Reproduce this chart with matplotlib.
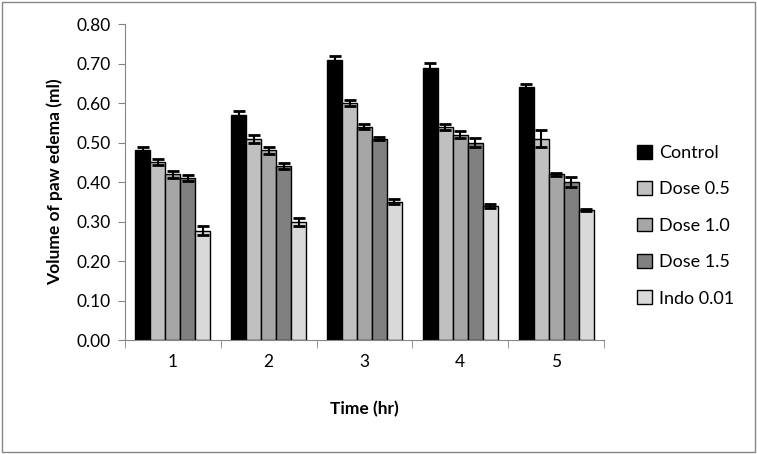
import matplotlib.pyplot as plt, numpy as np
from matplotlib.patches import Rectangle

plt.rcParams['font.family'] = ['Lato', 'DejaVu Sans']

times = ['1', '2', '3', '4', '5']
series = ['Control', 'Dose 0.5', 'Dose 1.0', 'Dose 1.5', 'Indo 0.01']
colors = ['#000000', '#C0C0C0', '#A6A6A6', '#808080', '#D9D9D9']

control = [0.48, 0.57, 0.71, 0.69, 0.64]
dose05 = [0.45, 0.51, 0.60, 0.54, 0.51]
dose10 = [0.42, 0.48, 0.54, 0.52, 0.42]
dose15 = [0.41, 0.44, 0.51, 0.50, 0.40]
indo = [0.277, 0.30, 0.35, 0.34, 0.33]

err_control = [0.009, 0.009, 0.009, 0.011, 0.008]
err_dose05 = [0.008, 0.010, 0.007, 0.007, 0.021]
err_dose10 = [0.009, 0.008, 0.006, 0.009, 0.004]
err_dose15 = [0.007, 0.008, 0.004, 0.011, 0.012]
err_indo = [0.011, 0.010, 0.006, 0.005, 0.003]

values = [control, dose05, dose10, dose15, indo]
errors = [err_control, err_dose05, err_dose10, err_dose15, err_indo]

fig = plt.figure(figsize=(7.57, 4.54), dpi=100)
ax = fig.add_axes([0.165, 0.251, 0.633, 0.696])

x = np.arange(len(times))
w = 0.156
for i in range(len(series)):
	pos = x + (i - 2) * w
	ax.bar(pos, values[i], w, color=colors[i], edgecolor='black', linewidth=1, label=series[i], zorder=2)
	ax.errorbar(pos, values[i], yerr=errors[i], fmt='none', ecolor='black', elinewidth=1.5, capsize=4.5, capthick=2, zorder=3)

ax.set_xlim(-0.5, 4.5)
ax.set_ylim(0, 0.8)
ax.set_yticks(np.arange(0, 0.81, 0.1))
ax.set_yticklabels(['%.2f' % v for v in np.arange(0, 0.81, 0.1)], fontsize=12.5)
ax.set_xticks(x)
ax.set_xticklabels(times, fontsize=12.5)
ax.tick_params(axis='x', length=0, pad=10)
ax.set_xticks(np.arange(-0.5, 4.6, 1), minor=True)
ax.tick_params(axis='x', which='minor', length=6, color='#868686')
ax.tick_params(axis='y', length=5, color='#868686', pad=5)
for s in ['top', 'right']:
	ax.spines[s].set_visible(False)
for s in ['left', 'bottom']:
	ax.spines[s].set_color('#868686')

ax.set_xlabel('Time (hr)', fontsize=12.5, fontweight='bold', labelpad=22)
ax.set_ylabel('Volume of paw edema (ml)', fontsize=12.5, fontweight='bold', labelpad=10)

leg = ax.legend(loc='center left', bbox_to_anchor=(1.035, 0.362), frameon=False, fontsize=13,
	handlelength=0.8, handleheight=0.8, handletextpad=0.4, labelspacing=1.12)

fig.patches.append(Rectangle((0.003, 0.004), 0.994, 0.992, transform=fig.transFigure,
	fill=False, edgecolor='#868686', linewidth=1))

plt.savefig('out.png', dpi=100)
